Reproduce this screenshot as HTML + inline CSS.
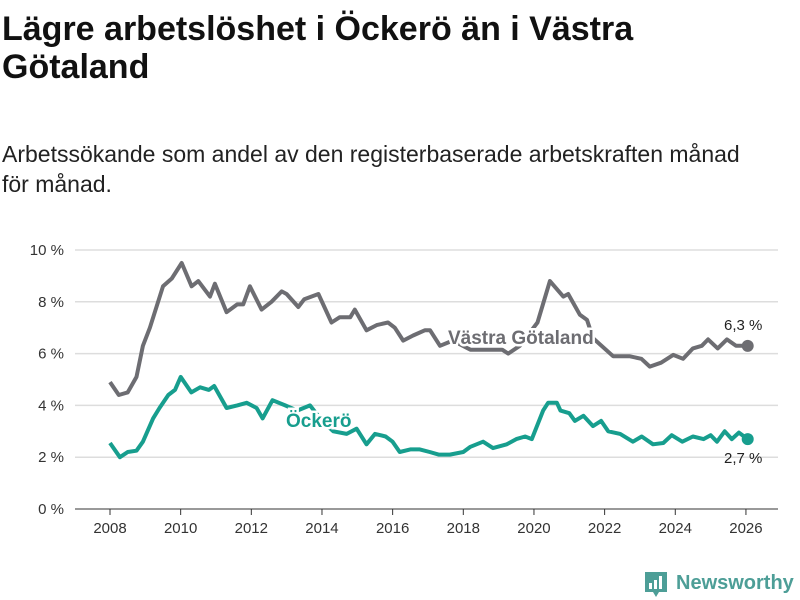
<!DOCTYPE html>
<html><head><meta charset="utf-8"><style>
body{margin:0;width:800px;height:600px;background:#fff;font-family:"Liberation Sans","DejaVu Sans",sans-serif;color:#111;position:relative;overflow:hidden}
h1{position:absolute;left:2px;top:10px;margin:0;font-size:34px;line-height:38px;font-weight:bold;width:700px}
p{position:absolute;left:2px;top:139px;margin:0;font-size:23px;line-height:30px;width:770px;color:#222}
svg{position:absolute;left:0;top:0}
</style></head><body>
<h1>Lägre arbetslöshet i Öckerö än i Västra Götaland</h1>
<p>Arbetssökande som andel av den registerbaserade arbetskraften månad för månad.</p>
<svg id="chart" width="800" height="600"></svg>
<script>
const yTicks=[0,2,4,6,8,10];
const xTicks=[2008,2010,2012,2014,2016,2018,2020,2022,2024,2026];
const vgYears=[2008,2008.25,2008.5,2008.75,2008.93,2009.13,2009.5,2009.75,2010.03,2010.31,2010.5,2010.83,2010.97,2011.3,2011.6,2011.77,2011.96,2012.29,2012.57,2012.86,2013,2013.33,2013.5,2013.9,2014.27,2014.5,2014.8,2014.93,2015.26,2015.55,2015.87,2016.06,2016.3,2016.58,2016.91,2017.06,2017.34,2017.7,2018.2,2018.6,2019.1,2019.27,2019.6,2020.1,2020.45,2020.83,2020.97,2021.3,2021.5,2021.67,2022.24,2022.7,2023.04,2023.28,2023.6,2023.94,2024.22,2024.5,2024.75,2024.93,2025.2,2025.46,2025.72,2026.05];
const vgValues=[4.9,4.4,4.5,5.1,6.3,7.0,8.6,8.9,9.5,8.6,8.8,8.2,8.7,7.6,7.9,7.9,8.6,7.7,8.0,8.4,8.3,7.8,8.1,8.3,7.2,7.4,7.4,7.7,6.9,7.1,7.2,7.0,6.5,6.7,6.9,6.9,6.3,6.5,6.15,6.15,6.15,6.0,6.3,7.2,8.8,8.2,8.3,7.5,7.3,6.6,5.9,5.9,5.8,5.5,5.65,5.95,5.8,6.2,6.3,6.55,6.2,6.55,6.3,6.3];
const okYears=[2008,2008.28,2008.5,2008.75,2008.93,2009.22,2009.4,2009.65,2009.84,2010,2010.3,2010.55,2010.8,2010.95,2011.3,2011.6,2011.87,2012.15,2012.32,2012.6,2012.96,2013.3,2013.66,2014.0,2014.32,2014.7,2014.98,2015.26,2015.5,2015.8,2016,2016.2,2016.5,2016.77,2017.05,2017.3,2017.62,2018,2018.2,2018.56,2018.84,2019.23,2019.5,2019.75,2019.94,2020.26,2020.4,2020.65,2020.75,2021,2021.16,2021.4,2021.67,2021.9,2022.1,2022.44,2022.8,2023.05,2023.37,2023.66,2023.9,2024.2,2024.5,2024.8,2025,2025.18,2025.4,2025.6,2025.8,2026.05];
const okValues=[2.55,2.0,2.2,2.25,2.6,3.5,3.9,4.4,4.6,5.1,4.5,4.7,4.6,4.75,3.9,4.0,4.1,3.9,3.5,4.2,4.0,3.8,4.0,3.4,3.0,2.9,3.1,2.5,2.9,2.8,2.6,2.2,2.3,2.3,2.2,2.1,2.1,2.2,2.4,2.6,2.35,2.5,2.7,2.8,2.7,3.8,4.1,4.1,3.8,3.7,3.4,3.6,3.2,3.4,3.0,2.9,2.6,2.8,2.5,2.55,2.85,2.6,2.8,2.7,2.85,2.6,3.0,2.7,2.95,2.7];
const svg=document.getElementById('chart');
const NS='http://www.w3.org/2000/svg';
const X=y=>110+(y-2008)*35.33;
const Y=v=>509-v*25.9;
function mk(tag,attrs,parent){const e=document.createElementNS(NS,tag);for(const k in attrs)e.setAttribute(k,attrs[k]);(parent||svg).appendChild(e);return e;}
yTicks.forEach(t=>{
  const g=mk('line',{x1:75,x2:778,y1:Y(t),y2:Y(t),stroke:t===0?'#333':'#ddd','stroke-width':t===0?1:1.5});
  
  
  const l=mk('text',{x:64,y:Y(t)+5,'text-anchor':'end','font-size':15,fill:'#333'});
  l.textContent=t+' %';
  
  
});
xTicks.forEach(t=>{
  const tk=mk('line',{x1:X(t),x2:X(t),y1:509,y2:515,stroke:'#333'});
  
  
  const l=mk('text',{x:X(t),y:533,'text-anchor':'middle','font-size':15,fill:'#333'});
  l.textContent=t;
  
  
});
function series(xs,vs,color,name){
  const d=xs.map((x,i)=>(i?'L':'M')+X(x).toFixed(1)+' '+Y(vs[i]).toFixed(1)).join(' ');
  const p=mk('path',{d:d,fill:'none',stroke:color,'stroke-width':4,'stroke-linejoin':'round'});
  
  
  const n=xs.length-1;
  const c=mk('circle',{cx:X(xs[n]),cy:Y(vs[n]),r:6,fill:color});
  
  
}
series(vgYears,vgValues,'#6d6d72','vastra-gotaland');
series(okYears,okValues,'#179e8e','ockero');
function lab(x,y,txt,color,name,size,bold){
  const t=mk('text',{x:x,y:y,'font-size':size,'font-weight':bold?'bold':'normal',fill:color,stroke:'#fff','stroke-width':bold?5:0,'paint-order':'stroke'});
  t.textContent=txt;
  
  
}
lab(448,344,'Västra Götaland','#6d6d72','vastra-gotaland-label',19,true);
lab(286,427,'Öckerö','#179e8e','ockero-label',19,true);
lab(724,330,'6,3 %','#222','vastra-gotaland-last-value',15,false);
lab(724,463,'2,7 %','#222','ockero-last-value',15,false);
const logo=mk('g',{});


mk('path',{d:'M645 572 h22 v20 h-8 l-3 5 l-3 -5 h-8 z',fill:'#4d9e97'},logo);
mk('rect',{x:649,y:583,width:3,height:6,fill:'#fff'},logo);
mk('rect',{x:654,y:580,width:3,height:9,fill:'#fff'},logo);
mk('rect',{x:659,y:576,width:3,height:13,fill:'#fff'},logo);
const lt=mk('text',{x:676,y:589,'font-size':20,'font-weight':'bold',fill:'#4d9e97'},logo);
lt.textContent='Newsworthy';
</script>
</body></html>
